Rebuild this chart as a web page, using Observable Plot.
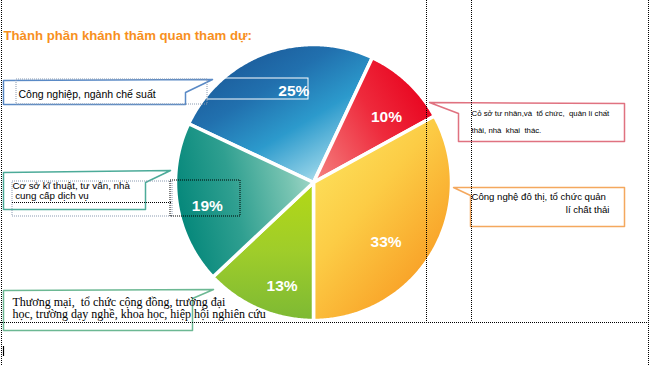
<!DOCTYPE html>
<html><head><meta charset="utf-8">
<script src="https://cdn.jsdelivr.net/npm/d3@7"></script>
<script src="https://cdn.jsdelivr.net/npm/@observablehq/plot@0.6"></script>
<style>body{margin:0;background:#fff}#chart svg{display:block}</style>
</head><body><div id="chart"></div>
<script>
// ---- data ----
const title = "Thành phần khánh thăm quan tham dự:";
const categories = [
  "Công nghiệp, ngành chế suất",
  "Cỏ sở tư nhân,và tổ chức, quản lí chất thải, nhà khai thác.",
  "Công nghệ đô thị, tổ chức quản lí chất thải",
  "Thương mại, tổ chức cộng đồng, trường đại học, trường dạy nghề, khoa học, hiệp hội nghiên cứu",
  "Cơ sở kĩ thuật, tư vấn, nhà cung cấp dịch vụ"
];
const values = [25, 10, 33, 13, 19];
const pctLabels = ["25%", "10%", "33%", "13%", "19%"];
const calloutLines = [
  ["Công nghiệp, ngành chế suất"],
  ["Cỏ sở tư nhân,và  tổ chức,  quản lí chất", "thải, nhà  khai  thác."],
  ["Công nghệ đô thị, tổ chức quản", "lí chất thải"],
  ["Thương mại,  tổ chức cộng đồng, trường đại", "học, trường dạy nghề, khoa học, hiệp hội nghiên cứu"],
  ["Cơ sở kĩ thuật, tư vấn, nhà", " cung cấp dịch vụ"]
];

// ---- layout / style ----
const W = 650, H = 365;
const CX = 313, CY = 182, R = 138;
const gradIds = ["gBlue", "gRed", "gOrange", "gGreen", "gTeal"];
const gradDefs = [
  {id: "gBlue", x1: 0, y1: 0, x2: 0.8, y2: 1, stops: [[0, "#174c8c"], [0.4, "#2170ae"], [0.65, "#2c9acc"], [0.88, "#86cbe4"], [1, "#d0eaf4"]]},
  {id: "gRed", x1: 1, y1: 0.3, x2: 0, y2: 0.9, stops: [[0, "#e8001c"], [0.45, "#ee2a3c"], [1, "#f47d7d"]]},
  {id: "gOrange", x1: 0.1, y1: 0, x2: 0.9, y2: 1, stops: [[0, "#fde661"], [0.4, "#fccc45"], [0.75, "#f9a82c"], [1, "#f68b1f"]]},
  {id: "gGreen", x1: 0, y1: 0, x2: 0, y2: 1, stops: [[0, "#b4d815"], [0.5, "#9fcd2a"], [1, "#7db934"]]},
  {id: "gTeal", x1: 0, y1: 0.5, x2: 1, y2: 0.25, stops: [[0, "#04877a"], [0.4, "#2f9f90"], [0.8, "#78c4b2"], [1, "#a6d9cb"]]}
];
const labelRadius = 0.72;
const labelNudge = [[14, 2], [5, 7], [-13, 9], [8, 12], [-8, 7.5]];
const callouts = [
  {stroke: "#5a8ac6", pts: [[3, 80], [212, 79], [185, 92], [185, 104], [3, 104]]},
  {stroke: "#e07280", pts: [[429, 102], [624, 103], [624, 141], [458, 141], [458, 113]]},
  {stroke: "#f4a85e", pts: [[453, 187], [624, 187], [624, 226], [470, 226], [470, 195]]},
  {stroke: "#6cb893", pts: [[3, 290], [213, 289], [192, 298], [192, 330], [3, 330]]},
  {stroke: "#4cab99", pts: [[3, 172], [170, 170], [145, 182], [145, 209], [3, 209]]}
];
const calloutText = [
  {x: 18, y: 97, dy: 0, size: 10.5, family: "Liberation Sans, Arial, sans-serif", anchor: "start"},
  {x: 471, y: 115, dy: 17, size: 7.8, family: "Liberation Sans, Arial, sans-serif", anchor: "start"},
  {x: 471, y: 199, dy: 13, size: 9.6, family: "Liberation Sans, Arial, sans-serif", anchor: "start", second: {x: 609, anchor: "end"}},
  {x: 12, y: 305, dy: 12.5, size: 12, family: "Liberation Serif, Times New Roman, serif", anchor: "start"},
  {x: 12, y: 188, dy: 10.5, size: 9.8, family: "Liberation Sans, Arial, sans-serif", anchor: "start"}
];

// ---- geometry from data ----
const total = d3.sum(values);
const start = Math.PI - 2 * Math.PI * (values[0] + values[1] + values[2]) / total;
const arcs = d3.pie().sort(null).value(d => d).startAngle(start).endAngle(start + 2 * Math.PI)(values);
const polar = (a, r) => ({x: CX + r * Math.sin(a), y: CY - r * Math.cos(a)});
const slicePolys = arcs.map((a, i) => {
  const pts = [polar(0, 0)];
  const n = Math.max(8, Math.ceil((a.endAngle - a.startAngle) / 0.01));
  for (let k = 0; k <= n; k++) pts.push(polar(a.startAngle + (a.endAngle - a.startAngle) * k / n, R));
  return pts.map(p => ({...p, i}));
});
const labelPts = arcs.map((a, i) => {
  const p = polar((a.startAngle + a.endAngle) / 2, R * labelRadius);
  return {x: p.x + labelNudge[i][0], y: p.y + labelNudge[i][1], text: pctLabels[i]};
});

const textRows = [];
calloutLines.forEach((lines, i) => {
  const t = calloutText[i];
  lines.forEach((line, j) => {
    const sec = j > 0 && t.second;
    textRows.push({x: sec ? t.second.x : t.x, y: t.y + j * t.dy, text: line, size: t.size, family: t.family, anchor: sec ? t.second.anchor : t.anchor});
  });
});

const marks = [];
slicePolys.forEach((pts, i) => {
  marks.push(Plot.line(pts, {x: "x", y: "y", curve: "linear-closed", fill: `url(#${gradIds[i]})`, stroke: "white", strokeWidth: 3.5, strokeLinejoin: "round"}));
});
// text-box frames around percentage labels
marks.push(Plot.rect([{x1: 207, x2: 308, y1: 78, y2: 99}], {x1: "x1", x2: "x2", y1: "y1", y2: "y2", fill: "none", stroke: "white", strokeWidth: 1}));
callouts.forEach(c => {
  marks.push(Plot.line(c.pts.map(([x, y]) => ({x, y})), {x: "x", y: "y", curve: "linear-closed", fill: "white", stroke: c.stroke, strokeWidth: 1.5}));
});
marks.push(Plot.rect([{x1: 16, x2: 207, y1: 79, y2: 104}, {x1: 12, x2: 172, y1: 181, y2: 216}], {x1: "x1", x2: "x2", y1: "y1", y2: "y2", fill: "none", stroke: "#8a9ab0", strokeWidth: 1, strokeDasharray: "1,1"}));
marks.push(Plot.rect([{x1: 170, x2: 240, y1: 180, y2: 216}], {x1: "x1", x2: "x2", y1: "y1", y2: "y2", fill: "none", stroke: "black", strokeWidth: 1, strokeDasharray: "1,1"}));
marks.push(Plot.ruleY([202], {x1: 12, x2: 172, stroke: "black", strokeDasharray: "1,1"}));
// percentages
marks.push(Plot.text(labelPts, {x: "x", y: "y", text: "text", fill: "white", fontWeight: "bold", fontSize: 15.5, fontFamily: "Liberation Sans, Arial, sans-serif", textAnchor: "middle"}));
// callout texts
textRows.forEach(r => {
  marks.push(Plot.text([r], {x: "x", y: "y", text: "text", fill: "black", fontSize: r.size, fontFamily: r.family, textAnchor: r.anchor, lineAnchor: "bottom"}));
});
// title
marks.push(Plot.text([title], {x: 3, y: 39, text: d => d, fill: "#f7901e", fontWeight: "bold", fontSize: 13.2, fontFamily: "Liberation Sans, Arial, sans-serif", textAnchor: "start", lineAnchor: "bottom"}));
// page guides (dotted)
marks.push(Plot.ruleX([1, 648], {y1: 0, y2: H, stroke: "black", strokeDasharray: "1,1"}));
marks.push(Plot.ruleX([426, 471], {y1: 0, y2: 322, stroke: "black", strokeDasharray: "1,1"}));
marks.push(Plot.ruleY([322], {x1: 0, x2: W, stroke: "black", strokeDasharray: "1,1"}));
marks.push(Plot.ruleX([3], {y1: 346, y2: 356, stroke: "black", strokeWidth: 1.2}));

const chart = Plot.plot({
  width: W, height: H,
  margin: 0,
  x: {domain: [0, W], range: [0, W], axis: null},
  y: {domain: [0, H], range: [0, H], axis: null},
  style: {background: "white", overflow: "visible"},
  marks
});
const defs = d3.select(chart).insert("defs", ":first-child");
gradDefs.forEach(g => {
  const lg = defs.append("linearGradient").attr("id", g.id).attr("x1", g.x1).attr("y1", g.y1).attr("x2", g.x2).attr("y2", g.y2);
  g.stops.forEach(([o, c]) => lg.append("stop").attr("offset", o).attr("stop-color", c));
});
document.getElementById("chart").append(chart);
</script>
</body></html>
